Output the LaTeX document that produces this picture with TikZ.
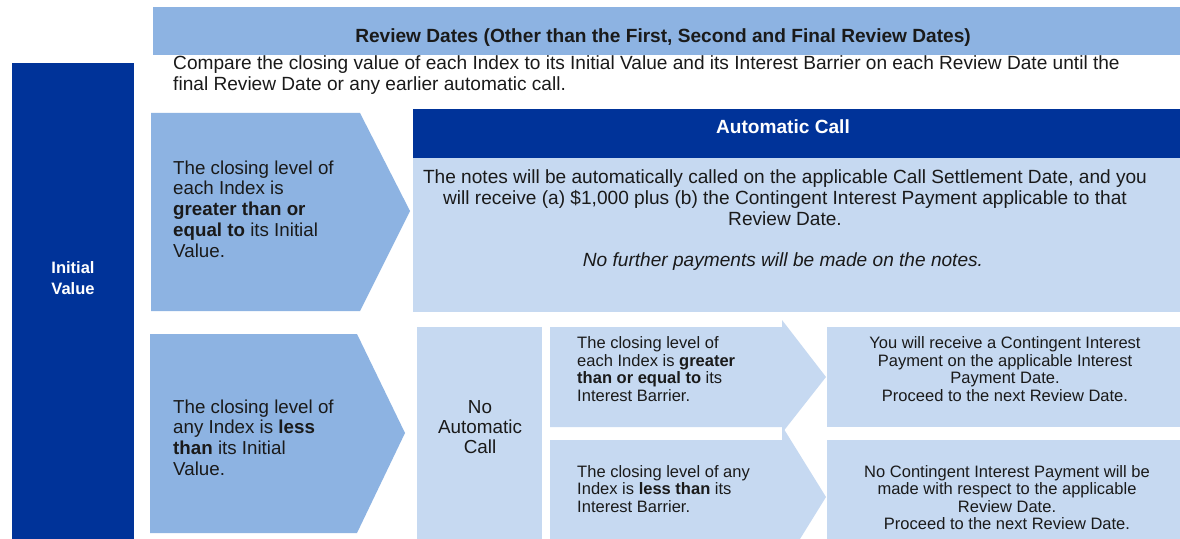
\documentclass[tikz,border=0pt]{standalone}
\usepackage{fontspec}
\setmainfont{Liberation Sans}
\usetikzlibrary{positioning}
\definecolor{navy}{HTML}{003399}
\definecolor{midblue}{HTML}{8DB3E2}
\definecolor{paleblue}{HTML}{C6D9F1}
\definecolor{inkgray}{HTML}{1A1A1A}

\begin{document}
\begin{tikzpicture}[x=0.03cm, y=-0.03cm,
  every node/.style={inner sep=0pt, text=inkgray},
  headtxt/.style={font=\bfseries\fontsize{16.3}{17.9}\selectfont},
  bodytxt/.style={font=\fontsize{16.3}{17.9}\selectfont},
  slanttxt/.style={font=\itshape\fontsize{16.3}{17.9}\selectfont},
  casetxt/.style={font=\fontsize{16}{17.7}\selectfont, align=left},
  testtxt/.style={font=\fontsize{14.1}{14.9}\selectfont, align=left},
  outcometxt/.style={font=\fontsize{14.1}{14.9}\selectfont, align=center},
  whitetxt/.style={text=white, font=\bfseries\fontsize{14.1}{17.9}\selectfont, align=center}]

% Frame
\clip (0,0) rectangle (1180,539);
\fill[white] (0,0) rectangle (1180,539);

%%% Review Dates banner %%%
\fill[midblue] (153,7) rectangle (1180,55);
\node[headtxt] (banner) at (663,38) {Review Dates (Other than the First, Second and Final Review Dates)};
\node[bodytxt, align=left, anchor=west] (compare) at (173,75.5) {Compare the closing value of each Index to its Initial Value and its Interest Barrier on each Review Date until the\\final Review Date or any earlier automatic call.};

%%% Initial Value bar %%%
\fill[navy] (12,63) rectangle (134,554);
\node[whitetxt] (initial) at (73,278.5) {Initial\\Value};

%%% Upper case: automatic call %%%
\fill[midblue] (151,113) -- (360,113) -- (410,211) -- (360,311) -- (151,311) -- cycle;
\node[casetxt, anchor=west] (above) at (173,209) {The closing level of\\each Index is\\\textbf{greater than or}\\\textbf{equal to} its Initial\\Value.};
\fill[navy] (413,109) rectangle (1180,158);
\fill[paleblue] (413,158) rectangle (1180,312);
\node[headtxt, text=white] (callhead) at (783,127) {Automatic Call};
\node[bodytxt, align=center] (callbody) at (785,198) {The notes will be automatically called on the applicable Call Settlement Date, and you\\will receive (a) \$1,000 plus (b) the Contingent Interest Payment applicable to that\\Review Date.};
\node[slanttxt] (nofurther) at (783,261.5) {No further payments will be made on the notes.};

%%% Lower case: no automatic call %%%
\fill[midblue] (150,334) -- (357,334) -- (405,433) -- (357,533) -- (150,533) -- cycle;
\node[casetxt, anchor=west] (below) at (173,437.5) {The closing level of\\any Index is \textbf{less}\\\textbf{than} its Initial\\Value.};
\fill[paleblue] (417,327) rectangle (542,554);
\node[font=\fontsize{16.1}{17.1}\selectfont, align=center] (nocall) at (480,427) {No\\Automatic\\Call};

% Interest Barrier met
\fill[paleblue] (550,327) -- (782,327) -- (782,320) -- (826,377) -- (782,433) -- (782,427) -- (550,427) -- cycle;
\node[testtxt, anchor=west] (barrierup) at (577,369) {The closing level of\\each Index is \textbf{greater}\\\textbf{than or equal to} its\\Interest Barrier.};
\fill[paleblue] (827,327) rectangle (1180,427);
\node[outcometxt] (coupon) at (1005,369) {You will receive a Contingent Interest\\Payment on the applicable Interest\\Payment Date.\\Proceed to the next Review Date.};

% Interest Barrier missed
\fill[paleblue] (550,440) -- (782,440) -- (782,426) -- (826,497) -- (782,568) -- (782,554) -- (550,554) -- cycle;
\node[testtxt, anchor=west] (barrierdown) at (577,489) {The closing level of any\\Index is \textbf{less than} its\\Interest Barrier.};
\fill[paleblue] (827,440) rectangle (1180,554);
\node[outcometxt] (nocoupon) at (1007,497.5) {No Contingent Interest Payment will be\\made with respect to the applicable\\Review Date.\\Proceed to the next Review Date.};

\end{tikzpicture}
\end{document}
